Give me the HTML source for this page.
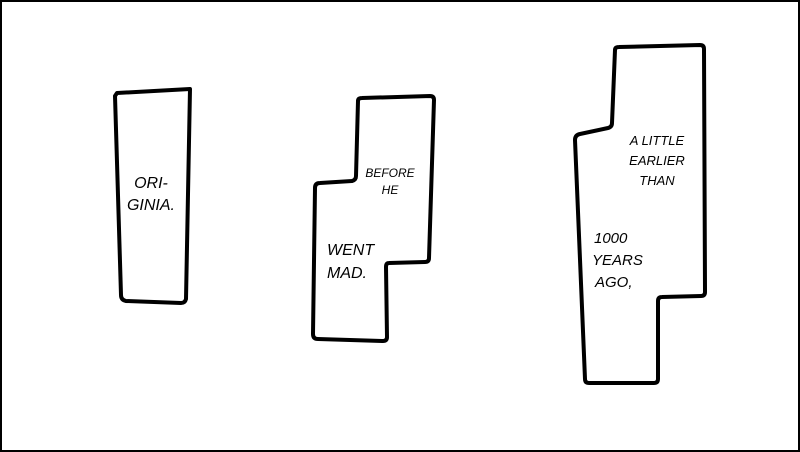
<!DOCTYPE html>
<html><head><style>
html,body{margin:0;padding:0;background:#fff}
svg{display:block}
text{font-family:"Liberation Sans",sans-serif;fill:#000;font-style:italic}
</style></head><body>
<svg width="800" height="452" viewBox="0 0 800 452" xmlns="http://www.w3.org/2000/svg">
<rect x="1" y="1" width="798" height="450" fill="#fff" stroke="#000" stroke-width="2"/>
<g fill="#fff" stroke="#000" stroke-width="4" stroke-linejoin="round">
<path d="M117,93 L190,89 L186,299 Q185,303 181,303 L126,301 Q121,300 121,295 L115,96 Z"/>
<path d="M358,101 Q358,98 362,98 L430,96 Q434,96 434,100 L429,258 Q429,262 425,262 L389,263 Q386,263 386,267 L387,337 Q387,341 383,341 L318,339 Q313,339 313,334 L315,188 Q315,183 320,183 L352,181 Q356,180 356,176 Z"/>
<path d="M615,50 Q615,47 619,47 L700,45 Q704,45 704,49 L705,292 Q705,296 701,296 L662,297 Q658,297 658,301 L658,379 Q658,383 654,383 L589,383 Q585,383 585,379 L575,140 Q575,135 580,134 L608,128 Q612,127 612,123 Z"/>
</g>
<g font-size="16" text-anchor="middle">
<text x="151" y="188">ORI-</text>
<text x="151" y="210">GINIA.</text>
</g>
<g font-size="12" text-anchor="middle">
<text x="390" y="177">BEFORE</text>
<text x="390" y="194">HE</text>
</g>
<g font-size="16">
<text x="327" y="255">WENT</text>
<text x="327" y="278">MAD.</text>
</g>
<g font-size="13" text-anchor="middle">
<text x="657" y="145">A LITTLE</text>
<text x="657" y="165">EARLIER</text>
<text x="657" y="185">THAN</text>
</g>
<g font-size="15">
<text x="594" y="243">1000</text>
<text x="592" y="265">YEARS</text>
<text x="595" y="287">AGO,</text>
</g>
</svg>
</body></html>
